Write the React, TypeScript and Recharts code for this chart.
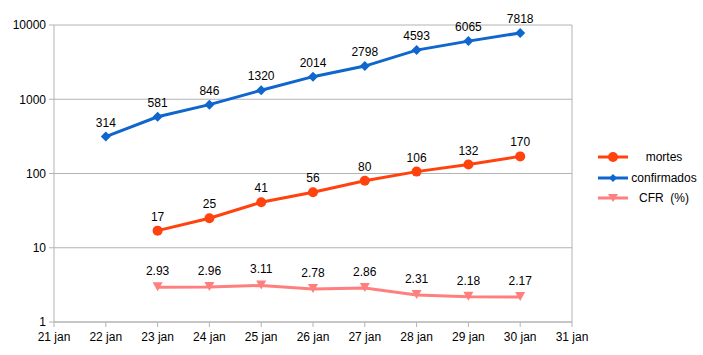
import {
  LineChart,
  XAxis,
  YAxis,
  Line,
  CartesianGrid,
  LabelList,
  ReferenceLine,
} from "recharts";

const days = [22, 23, 24, 25, 26, 27, 28, 29, 30];
const confirmados = [314, 581, 846, 1320, 2014, 2798, 4593, 6065, 7818];
const mortes = [null, 17, 25, 41, 56, 80, 106, 132, 170];
const cfr = [null, 2.93, 2.96, 3.11, 2.78, 2.86, 2.31, 2.18, 2.17];

const xTicks = [21, 22, 23, 24, 25, 26, 27, 28, 29, 30, 31];
const yTicks = [1, 10, 100, 1000, 10000];

const BLUE = "#0f66cc";
const RED = "#ff420e";
const PINK = "#ff7f7f";
const GRID = "#b3b3b3";
const FONT = "'Liberation Sans', Arial, sans-serif";

const data = days.map((d, i) => ({
  day: d,
  confirmados: confirmados[i],
  mortes: mortes[i],
  cfr: cfr[i],
}));

const Circle = (p: any) =>
  p.cx == null || p.cy == null ? null : (
    <circle key={p.key} cx={p.cx} cy={p.cy} r={5} fill={RED} />
  );

const Diamond = (p: any) =>
  p.cx == null || p.cy == null ? null : (
    <path
      key={p.key}
      d={`M${p.cx},${p.cy - 5} L${p.cx + 5},${p.cy} L${p.cx},${p.cy + 5} L${p.cx - 5},${p.cy} Z`}
      fill={BLUE}
    />
  );

const Tri = (p: any) =>
  p.cx == null || p.cy == null ? null : (
    <path
      key={p.key}
      d={`M${p.cx - 5},${p.cy - 5} L${p.cx + 5},${p.cy - 5} L${p.cx},${p.cy + 4} Z`}
      fill={PINK}
    />
  );

const legendItems = [
  { name: "mortes", color: RED, mark: "circle" },
  { name: "confirmados", color: BLUE, mark: "diamond" },
  { name: "CFR  (%)", color: PINK, mark: "tri" },
];

function LegendBox() {
  return (
    <div
      style={{
        position: "absolute",
        left: 597,
        top: 147,
        width: 106,
        fontFamily: FONT,
        fontSize: 12,
        color: "#000",
      }}
    >
      {legendItems.map((it) => (
        <div
          key={it.name}
          style={{ display: "flex", alignItems: "center", height: 20.5 }}
        >
          <svg width={32} height={14}>
            <line x1={1} y1={7} x2={31} y2={7} stroke={it.color} strokeWidth={3} />
            {it.mark === "circle" && <circle cx={16} cy={7} r={5} fill={it.color} />}
            {it.mark === "diamond" && (
              <path d="M16,3 L20,7 L16,11 L12,7 Z" fill={it.color} />
            )}
            {it.mark === "tri" && (
              <path d="M11,3 L21,3 L16,11 Z" fill={it.color} />
            )}
          </svg>
          <span style={{ width: 70, textAlign: "center", whiteSpace: "pre" }}>
            {it.name}
          </span>
        </div>
      ))}
    </div>
  );
}

const labelStyle = { fontFamily: FONT, fontSize: 12, fill: "#000" };

export default function App() {
  return (
    <div
      style={{
        position: "absolute",
        left: 0,
        top: 0,
        width: 703,
        height: 355,
        background: "#fff",
      }}
    >
      <LineChart
        width={703}
        height={355}
        data={data}
        margin={{ top: 25, right: 131, left: 0, bottom: 0 }}
      >
        <CartesianGrid stroke={GRID} vertical={false} />
        <XAxis
          dataKey="day"
          type="number"
          domain={[21, 31]}
          ticks={xTicks}
          interval={0}
          tickFormatter={(v) => `${v} jan`}
          height={33}
          stroke={GRID}
          tickSize={5}
          tickMargin={5}
          tick={{ fill: "#000", fontFamily: FONT, fontSize: 12 }}
        />
        <YAxis
          scale="log"
          domain={[1, 10000]}
          ticks={yTicks}
          interval={0}
          width={54}
          stroke={GRID}
          tickSize={5}
          tickMargin={3}
          allowDataOverflow
          tick={{ fill: "#000", fontFamily: FONT, fontSize: 12 }}
        />
        <ReferenceLine x={31} stroke={GRID} />
        <Line
          dataKey="mortes"
          stroke={RED}
          strokeWidth={3}
          dot={Circle}
          activeDot={false}
          isAnimationActive={false}
          connectNulls
        >
          <LabelList dataKey="mortes" position="top" offset={10} style={labelStyle} />
        </Line>
        <Line
          dataKey="confirmados"
          stroke={BLUE}
          strokeWidth={3}
          dot={Diamond}
          activeDot={false}
          isAnimationActive={false}
        >
          <LabelList dataKey="confirmados" position="top" offset={10} style={labelStyle} />
        </Line>
        <Line
          dataKey="cfr"
          stroke={PINK}
          strokeWidth={3}
          dot={Tri}
          activeDot={false}
          isAnimationActive={false}
          connectNulls
        >
          <LabelList dataKey="cfr" position="top" offset={12} style={labelStyle} />
        </Line>
      </LineChart>
      <LegendBox />
    </div>
  );
}
